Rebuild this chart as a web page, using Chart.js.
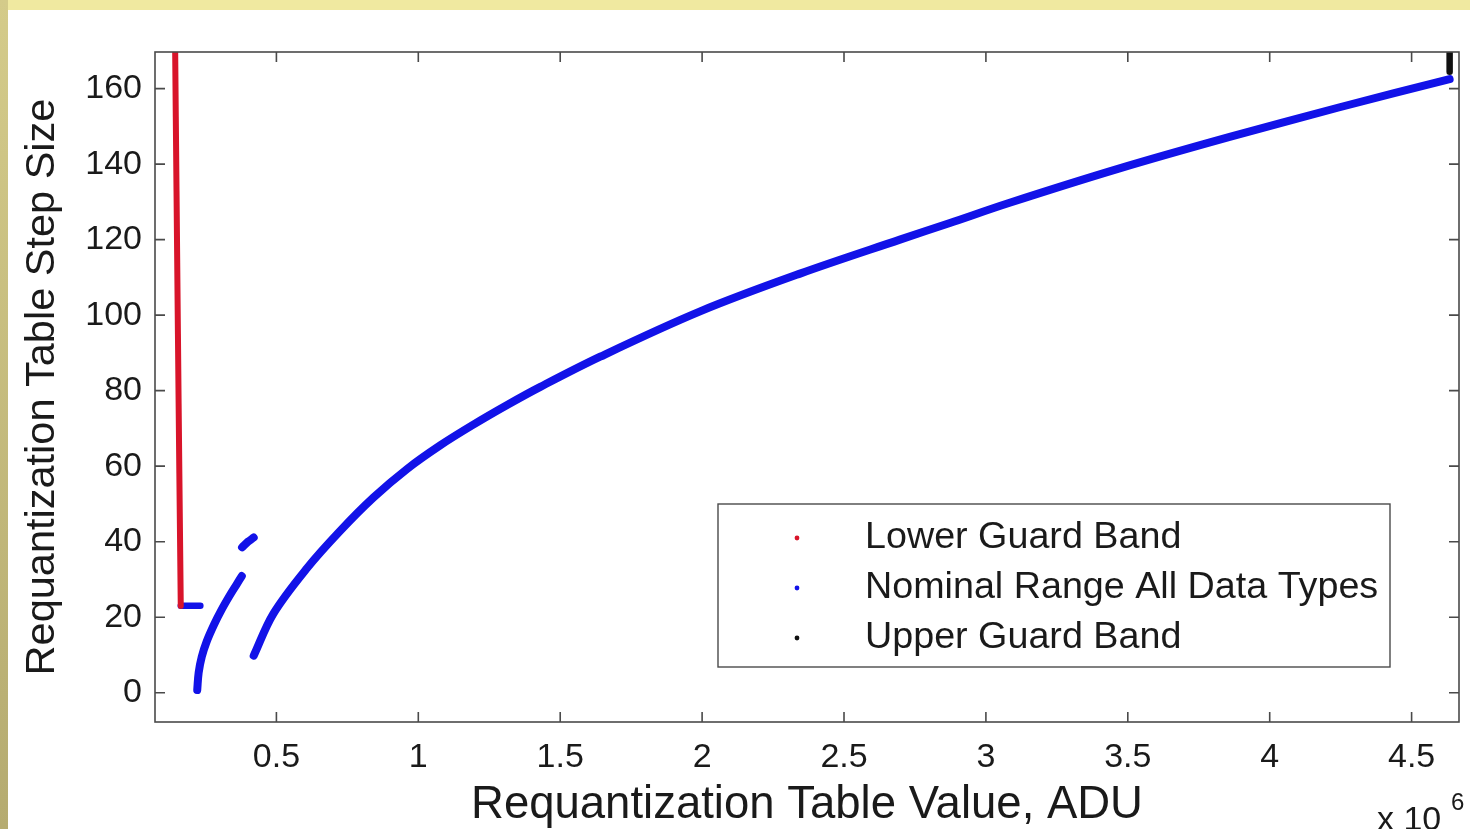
<!DOCTYPE html>
<html>
<head>
<meta charset="utf-8">
<title>Requantization Table Step Size</title>
<script src="https://cdn.jsdelivr.net/npm/chart.js@4/dist/chart.umd.min.js"></script>
<style>
  html, body { margin: 0; padding: 0; background: #ffffff; overflow: hidden; }
  canvas { display: block; }
</style>
</head>
<body>
<canvas id="chart" width="1470" height="829"></canvas>
<script>
// Table values are in units of 10^6 ADU, step sizes in ADU.
const lowerGuardX = [0.143, 0.148, 0.153, 0.158, 0.163];
const lowerGuardY = [172, 133, 95, 58, 23];

const nominalFlatX = [0.163, 0.232];
const nominalFlatY = [23, 23];

const nominalArcAX = [0.221, 0.226, 0.237, 0.254, 0.280, 0.307, 0.336, 0.360, 0.378];
const nominalArcAY = [0.7, 5.3, 9.5, 13.5, 18.0, 22.0, 25.8, 28.7, 30.9];

const nominalArcBX = [0.379, 0.400, 0.420];
const nominalArcBY = [38.5, 40.0, 41.1];

const nominalMainX = [0.420, 0.489, 0.609, 0.725, 0.842, 0.961, 1.077, 1.194, 1.313, 1.430,
                      1.641, 1.993, 2.345, 2.697, 2.873, 3.081, 3.468, 3.859, 4.243, 4.634];
const nominalMainY = [9.8, 20.9, 33.1, 42.9, 51.7, 59.3, 65.5, 71.0, 76.2, 81.0,
                      89.0, 101.0, 111.0, 120.0, 124.4, 129.7, 138.8, 147.2, 155.0, 162.5];

const upperGuardX = [4.634, 4.634];
const upperGuardY = [164.5, 172];

const xTickValues = [0.5, 1, 1.5, 2, 2.5, 3, 3.5, 4, 4.5];
const xTickLabels = ['0.5', '1', '1.5', '2', '2.5', '3', '3.5', '4', '4.5'];
const yTickValues = [0, 20, 40, 60, 80, 100, 120, 140, 160];
const yTickLabels = ['0', '20', '40', '60', '80', '100', '120', '140', '160'];

const legendLabels = ['Lower Guard Band', 'Nominal Range All Data Types', 'Upper Guard Band'];
const RED = '#d8142a';
const BLUE = '#1212e8';
const BLACK = '#111111';
const legendColors = [RED, BLUE, BLACK];

const FONT = '"Liberation Sans", Arial, Helvetica, sans-serif';
const TEXT = '#1a1a1a';

const pts = (xs, ys) => xs.map((x, i) => ({ x, y: ys[i] }));

function series(label, xs, ys, color, width) {
  return {
    label,
    data: pts(xs, ys),
    showLine: true,
    borderColor: color,
    backgroundColor: color,
    borderWidth: width,
    borderCapStyle: 'round',
    borderJoinStyle: 'round',
    tension: 0.35,
    pointRadius: 0,
    pointHoverRadius: 0,
    clip: 0
  };
}

// Yellow presentation frame behind the figure
const framePlugin = {
  id: 'frame',
  beforeDraw(chart) {
    const { ctx, width, height } = chart;
    ctx.save();
    ctx.fillStyle = '#ffffff';
    ctx.fillRect(0, 0, width, height);
    ctx.fillStyle = '#f0e9a0';
    ctx.fillRect(0, 0, width, 10);
    const g = ctx.createLinearGradient(0, 0, 0, height);
    g.addColorStop(0, '#d4cb8a');
    g.addColorStop(1, '#b5ab70');
    ctx.fillStyle = g;
    ctx.fillRect(0, 0, 8, height);
    ctx.restore();
  }
};

// Axes box with inward tick marks on all four sides
const boxPlugin = {
  id: 'box',
  afterDatasetsDraw(chart) {
    const { ctx, chartArea: a, scales } = chart;
    const xs = scales.x, ys = scales.y;
    const L = 10;
    ctx.save();
    ctx.strokeStyle = '#4a4a4a';
    ctx.lineWidth = 1.6;
    ctx.strokeRect(a.left, a.top, a.right - a.left, a.bottom - a.top);
    ctx.beginPath();
    xTickValues.forEach(v => {
      const px = xs.getPixelForValue(v);
      ctx.moveTo(px, a.bottom); ctx.lineTo(px, a.bottom - L);
      ctx.moveTo(px, a.top); ctx.lineTo(px, a.top + L);
    });
    yTickValues.forEach(v => {
      const py = ys.getPixelForValue(v);
      ctx.moveTo(a.left, py); ctx.lineTo(a.left + L, py);
      ctx.moveTo(a.right, py); ctx.lineTo(a.right - L, py);
    });
    ctx.stroke();
    ctx.restore();
  },
  afterDraw(chart) {
    const { ctx } = chart;
    ctx.save();
    // legend box
    const bx = 718, by = 504, bw = 672, bh = 163;
    ctx.fillStyle = '#ffffff';
    ctx.fillRect(bx, by, bw, bh);
    ctx.strokeStyle = '#4a4a4a';
    ctx.lineWidth = 1.4;
    ctx.strokeRect(bx, by, bw, bh);
    ctx.font = '37.7px ' + FONT;
    ctx.textBaseline = 'middle';
    ctx.textAlign = 'left';
    const rows = [538, 588, 638];
    legendLabels.forEach((lab, i) => {
      ctx.fillStyle = legendColors[i];
      ctx.beginPath();
      ctx.arc(797, rows[i], 2.4, 0, Math.PI * 2);
      ctx.fill();
      ctx.fillStyle = TEXT;
      ctx.fillText(lab, 865, rows[i]);
    });
    // exponent of the x axis
    ctx.fillStyle = TEXT;
    ctx.textBaseline = 'alphabetic';
    ctx.font = '34px ' + FONT;
    ctx.fillText('x 10', 1377, 830);
    ctx.font = '24px ' + FONT;
    ctx.fillText('6', 1451, 810);
    ctx.restore();
  }
};

new Chart(document.getElementById('chart'), {
  type: 'scatter',
  data: {
    datasets: [
      series(legendLabels[0], lowerGuardX, lowerGuardY, RED, 6),
      series(legendLabels[1], nominalFlatX, nominalFlatY, BLUE, 6.5),
      series(legendLabels[1], nominalArcAX, nominalArcAY, BLUE, 8),
      series(legendLabels[1], nominalArcBX, nominalArcBY, BLUE, 8),
      series(legendLabels[1], nominalMainX, nominalMainY, BLUE, 8),
      series(legendLabels[2], upperGuardX, upperGuardY, BLACK, 6.5)
    ]
  },
  options: {
    responsive: false,
    animation: false,
    events: [],
    layout: { padding: { left: 8, top: 52, right: 11, bottom: 0 } },
    plugins: { legend: { display: false }, tooltip: { enabled: false } },
    scales: {
      x: {
        type: 'linear',
        min: 0.0722,
        max: 4.667,
        grid: { display: false, drawTicks: false },
        border: { display: false },
        afterBuildTicks: s => { s.ticks = xTickValues.map(v => ({ value: v })); },
        afterFit: s => { s.height = 107; },
        ticks: {
          autoSkip: false,
          maxRotation: 0,
          padding: 15,
          color: TEXT,
          font: { family: FONT, size: 34 },
          callback: (v, i) => xTickLabels[i]
        },
        title: {
          display: true,
          text: 'Requantization Table Value, ADU',
          color: TEXT,
          font: { family: FONT, size: 45.5 },
          padding: { top: 0, bottom: -4 }
        }
      },
      y: {
        type: 'linear',
        min: -7.76,
        max: 169.7,
        grid: { display: false, drawTicks: false },
        border: { display: false },
        afterBuildTicks: s => { s.ticks = yTickValues.map(v => ({ value: v })); },
        afterFit: s => { s.width = 147; },
        ticks: {
          autoSkip: false,
          padding: 13,
          color: TEXT,
          font: { family: FONT, size: 34 },
          callback: (v, i) => yTickLabels[i]
        },
        title: {
          display: true,
          text: 'Requantization Table Step Size',
          color: TEXT,
          font: { family: FONT, size: 41.5 },
          padding: { top: 10, bottom: 0 }
        }
      }
    }
  },
  plugins: [framePlugin, boxPlugin]
});
</script>
</body>
</html>
